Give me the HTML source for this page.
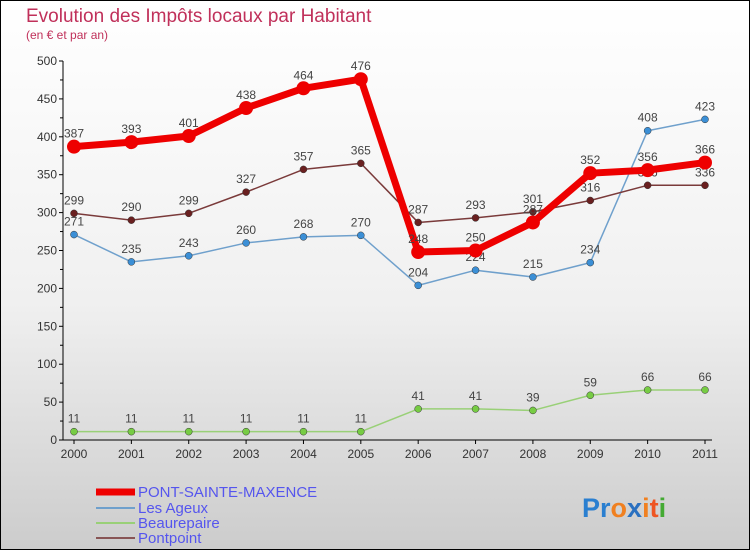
<!DOCTYPE html>
<html><head><meta charset="utf-8"><style>
body{margin:0;}
#c{width:750px;height:550px;position:relative;overflow:hidden;font-family:"Liberation Sans",sans-serif;}
</style></head><body>
<div id="c">
<svg id="s" width="750" height="550" xmlns="http://www.w3.org/2000/svg">
<defs><linearGradient id="bg" x1="0" y1="0" x2="0" y2="1">
<stop offset="0" stop-color="#ffffff"/><stop offset="0.55" stop-color="#f0f0f0"/><stop offset="1" stop-color="#cccccc"/></linearGradient></defs>
<rect x="0.5" y="0.5" width="749" height="549" fill="url(#bg)" stroke="#000"/>
<text x="26" y="22" font-size="19" fill="#c0305a">Evolution des Impôts locaux par Habitant</text>
<text x="26" y="39" font-size="12" fill="#c0305a">(en € et par an)</text>
<g id="axes"></g><g id="series"></g>
<g>
<line x1="96" y1="492" x2="135" y2="492" stroke="#ee0000" stroke-width="7"/>
<text x="138" y="497" font-size="15" fill="#5555ee">PONT-SAINTE-MAXENCE</text>
<line x1="96" y1="508" x2="135" y2="508" stroke="#6fa0cc" stroke-width="2"/>
<text x="138" y="513" font-size="15" fill="#5555ee">Les Ageux</text>
<line x1="96" y1="523" x2="135" y2="523" stroke="#99d077" stroke-width="2"/>
<text x="138" y="528" font-size="15" fill="#5555ee">Beaurepaire</text>
<line x1="96" y1="538" x2="135" y2="538" stroke="#885555" stroke-width="2"/>
<text x="138" y="543" font-size="15" fill="#5555ee">Pontpoint</text>
</g>
<text x="582" y="517" font-size="27" font-weight="bold"><tspan fill="#2a7fd0">Pr</tspan><tspan fill="#f08020">o</tspan><tspan fill="#2a70c0">x</tspan><tspan fill="#f08020">i</tspan><tspan fill="#ee5522">t</tspan><tspan fill="#44aa33">i</tspan></text>
</svg></div>
<script>
const years=["2000","2001","2002","2003","2004","2005","2006","2007","2008","2009","2010","2011"];
const yTicks=[0,50,100,150,200,250,300,350,400,450,500];
const psm=[387,393,401,438,464,476,248,250,287,352,356,366];
const ageux=[271,235,243,260,268,270,204,224,215,234,408,423];
const beau=[11,11,11,11,11,11,41,41,39,59,66,66];
const pont=[299,290,299,327,357,365,287,293,301,316,336,336];
const NS="http://www.w3.org/2000/svg";
const X=i=>74+i*(705-74)/11;
const Y=v=>440-v*(440-61)/500;
function mk(t,a,p){const e=document.createElementNS(NS,t);for(const k in a)e.setAttribute(k,a[k]);(p||document.getElementById('series')).appendChild(e);return e;}
const ax=document.getElementById('axes');
let e=mk('line',{x1:63,y1:Y(0),x2:63,y2:Y(500),stroke:'#000'},ax);


e=mk('line',{x1:63,y1:Y(0),x2:712,y2:Y(0),stroke:'#000'},ax);


yTicks.forEach(v=>{
 mk('line',{x1:59,y1:Y(v),x2:63,y2:Y(v),stroke:'#000'},ax);
 if(v<500) mk('line',{x1:60,y1:Y(v+25),x2:63,y2:Y(v+25),stroke:'#000'},ax);
 const t=mk('text',{x:57,y:Y(v)+4,'font-size':12,'text-anchor':'end',fill:'#333'},ax);t.textContent=v;
 
 
});
years.forEach((y,i)=>{
 mk('line',{x1:X(i),y1:Y(0),x2:X(i),y2:Y(0)+4,stroke:'#000'},ax);
 const t=mk('text',{x:X(i),y:458,'font-size':12,'text-anchor':'middle',fill:'#333'},ax);t.textContent=y;
 
 
});
function series(vals,col,dot,w,r,name){
 const g=mk('g',{});
 
 
 mk('polyline',{points:vals.map((v,i)=>X(i)+','+Y(v)).join(' '),fill:'none',stroke:col,'stroke-width':w,'stroke-linejoin':'round'},g);
 vals.forEach((v,i)=>{
  const c=mk('circle',{cx:X(i),cy:Y(v),r:r,fill:dot,stroke:w>3?'none':'#333','stroke-width':0.5},g);
  
  
  const t=mk('text',{x:X(i),y:Y(v)-9,'font-size':12,'text-anchor':'middle',fill:'#444'},g);t.textContent=v;
  
  
 });
}
series(beau,'#99d077','#77cc44',1.5,3.5,'beaurepaire');
series(ageux,'#6fa0cc','#3b8fd6',1.5,3.5,'les-ageux');
series(pont,'#7a3a3a','#6a2020',1.5,3.5,'pontpoint');
series(psm,'#ee0000','#ee0000',7,7,'pont-sainte-maxence');
</script>
</body></html>
